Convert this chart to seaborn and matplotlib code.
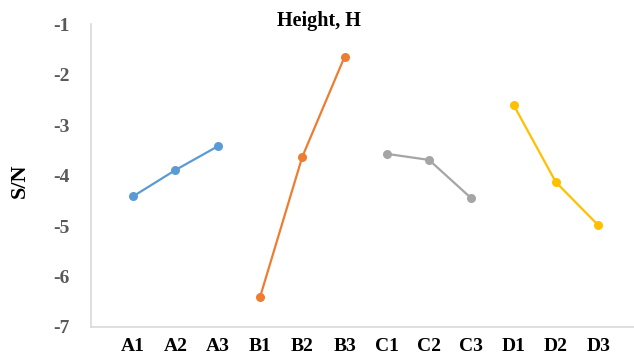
import pandas as pd
import seaborn as sns
import matplotlib.pyplot as plt

# levels and S/N values
levels = ['A1', 'A2', 'A3', 'B1', 'B2', 'B3', 'C1', 'C2', 'C3', 'D1', 'D2', 'D3']
factors = ['A', 'A', 'A', 'B', 'B', 'B', 'C', 'C', 'C', 'D', 'D', 'D']
sn_values = [-4.41, -3.89, -3.42, -6.41, -3.63, -1.65, -3.57, -3.69, -4.45, -2.60, -4.13, -4.98]
colors = ['#5b9bd5', '#ed7d31', '#a5a5a5', '#ffc000']

df = pd.DataFrame({'level': levels, 'factor': factors, 'SN': sn_values})
df['pos'] = range(len(df))

sns.set_style('white')
plt.rcParams['font.family'] = ['Liberation Serif', 'DejaVu Serif']

fig = plt.figure(figsize=(6.34, 3.58), dpi=100)
ax = fig.add_axes([0.1435, 0.0866, 0.8565, 0.846])

sns.lineplot(data=df, x='pos', y='SN', hue='factor', palette=colors,
             marker='o', markersize=6.5, markeredgewidth=0, linewidth=1.6,
             legend=False, ax=ax)

ax.set_xlim(-1, 11.85)
ax.set_ylim(-7, -1)
ax.set_xticks(df['pos'])
ax.set_xticklabels(levels, fontsize=14, fontweight='bold', color='black')
ax.set_yticks(range(-7, 0))
ax.set_yticklabels([str(v) for v in range(-7, 0)], fontsize=14,
                   fontweight='bold', color='#595959')
ax.tick_params(axis='x', length=0, pad=8)
ax.tick_params(axis='y', length=0, pad=27)
for lab in ax.get_yticklabels():
    lab.set_horizontalalignment('left')

ax.set_xlabel('')
ax.set_ylabel('S/N', fontsize=16, fontweight='bold', color='black')
ax.yaxis.set_label_coords(-0.112, 0.482)

for side in ['top', 'right']:
    ax.spines[side].set_visible(False)
for side in ['left', 'bottom']:
    ax.spines[side].set_color('#d9d9d9')
    ax.spines[side].set_linewidth(1.2)

fig.text(0.503, 0.94, 'Height, H', ha='center', va='center',
         fontsize=14.5, fontweight='bold', color='black')

plt.savefig('out.png', dpi=100)
